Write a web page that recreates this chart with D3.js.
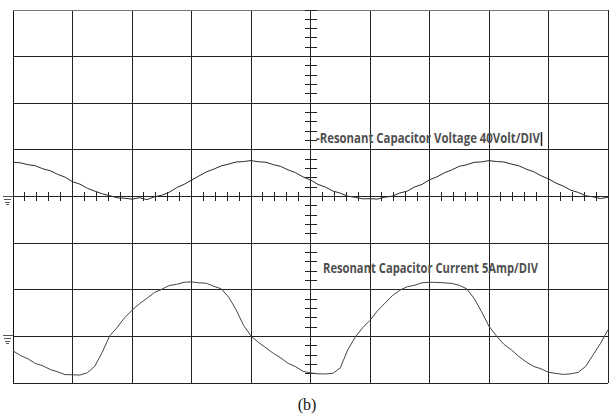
<!DOCTYPE html>
<html>
<head>
<meta charset="utf-8">
<script src="https://cdn.jsdelivr.net/npm/d3@7"></script>
<style>
  html, body { margin: 0; padding: 0; background: #fff; }
  svg { display: block; }
</style>
</head>
<body>
<svg id="chart" width="614" height="418"></svg>
<script>
// ---- data (time in divisions, 0.125 div steps) ----
const timeDivs = d3.range(81).map(k => k * 0.125);

// Resonant capacitor voltage (V), 40 V/DIV, ground at centre line
const voltage = [
  29.4, 28.9, 27.3, 26.4, 23.8, 22.1, 19.0, 16.6, 12.7, 10.6,
  7.0, 4.6, 2.3, 0.7, -1.1, -1.5, -2.3, -1.0, -2.7, -0.3,
  1.1, 3.6, 7.6, 10.4, 14.0, 17.6, 21.1, 23.5, 26.3, 27.8,
  29.6, 30.0, 30.8, 29.8, 29.4, 27.3, 25.8, 22.8, 20.4, 16.8,
  14.2, 10.4, 8.1, 4.7, 2.9, 0.3, -0.7, -2.0, -1.9, -2.2,
  -0.6, 0.3, 3.0, 4.6, 8.2, 10.4, 14.3, 16.9, 20.3, 22.8,
  25.9, 27.2, 29.3, 29.7, 30.8, 30.0, 29.6, 27.8, 26.4, 23.5,
  21.3, 17.8, 15.1, 11.5, 8.9, 5.4, 3.5, 0.6, -0.3, -1.8,
  -0.6
];

// Resonant capacitor current (A), 5 A/DIV, ground 3 div below centre
const current = [
  -1.55, -2.05, -2.40, -2.90, -3.15, -3.55, -3.80, -4.10, -4.12, -4.15,
  -3.90, -3.20, -1.70, 0.05, 0.95, 2.00, 2.80, 3.50, 4.08, 4.70,
  5.05, 5.45, 5.58, 5.80, 5.85, 5.74, 5.70, 5.37, 5.10, 4.20,
  2.85, 1.18, 0.05, -0.65, -1.22, -1.82, -2.30, -2.90, -3.25, -3.75,
  -3.92, -4.02, -4.03, -3.96, -3.38, -1.45, -0.10, 0.92, 1.72, 2.74,
  3.55, 4.36, 4.95, 5.32, 5.48, 5.75, 5.80, 5.79, 5.74, 5.68,
  5.48, 5.10, 4.08, 2.64, 1.08, 0.05, -0.85, -1.44, -2.15, -2.74,
  -3.22, -3.48, -3.86, -3.97, -4.08, -4.02, -3.85, -3.22, -1.98, -0.74,
  0.70
];

const voltsPerDiv = 40;
const ampsPerDiv = 5;
const voltageGroundDiv = 0;
const currentGroundDiv = -3;
const labels = {
  voltage: "-Resonant Capacitor Voltage 40Volt/DIV",
  current: "Resonant Capacitor Current 5Amp/DIV",
  caption: "(b)"
};

// ---- layout ----
const svg = d3.select("#chart");
const pLeft = 13, pRight = 608, pTop = 10, pBottom = 383;
const x = d3.scaleLinear().domain([0, 10]).range([pLeft, pRight]);
const y = d3.scaleLinear().domain([-4, 4]).range([pBottom, pTop]); // screen divisions
const yV = v => y(voltageGroundDiv + v / voltsPerDiv);
const yI = a => y(currentGroundDiv + a / ampsPerDiv);

const g = svg.append("g");

// grid
const gridColor = "#222";
d3.range(0, 11).forEach(i => {
  g.append("line").attr("x1", x(i)).attr("x2", x(i))
    .attr("y1", y(-4)).attr("y2", y(4))
    .attr("stroke", i === 0 ? "#111" : gridColor).attr("stroke-width", 1)
    .attr("shape-rendering", "crispEdges");
});
d3.range(-4, 5).forEach(j => {
  g.append("line").attr("x1", x(0)).attr("x2", x(10))
    .attr("y1", y(j)).attr("y2", y(j))
    .attr("stroke", j === 4 ? "#777" : gridColor).attr("stroke-width", 1)
    .attr("shape-rendering", "crispEdges");
});

// centre minor ticks
d3.range(0, 50.5).forEach(k => {
  const t = k / 5;
  g.append("line").attr("x1", x(t)).attr("x2", x(t))
    .attr("y1", y(0) - 4.5).attr("y2", y(0) + 4.5)
    .attr("stroke", "#222").attr("stroke-width", 1)
    .attr("shape-rendering", "crispEdges");
});
d3.range(-20, 20.5).forEach(k => {
  const t = k / 5;
  g.append("line").attr("x1", x(5) - 6).attr("x2", x(5) + 6)
    .attr("y1", y(t)).attr("y2", y(t))
    .attr("stroke", "#222").attr("stroke-width", 1)
    .attr("shape-rendering", "crispEdges");
});

// ground symbols
function groundSymbol(yy) {
  const s = g.append("g").attr("stroke", "#555").attr("stroke-width", 1)
    .attr("shape-rendering", "crispEdges");
  s.append("line").attr("x1", 3).attr("x2", pLeft).attr("y1", yy).attr("y2", yy);
  s.append("line").attr("x1", 4).attr("x2", 11).attr("y1", yy + 3).attr("y2", yy + 3);
  s.append("line").attr("x1", 5).attr("x2", 10).attr("y1", yy + 5.5).attr("y2", yy + 5.5);
  s.append("line").attr("x1", 6).attr("x2", 9).attr("y1", yy + 8).attr("y2", yy + 8);
}
groundSymbol(Math.round(y(voltageGroundDiv)) - 0.5);
groundSymbol(Math.round(y(currentGroundDiv)) - 0.5);

// traces
const lineV = d3.line().x((d, i) => x(timeDivs[i])).y(d => yV(d));
const lineI = d3.line().x((d, i) => x(timeDivs[i])).y(d => yI(d));
g.append("path").datum(voltage).attr("d", lineV)
  .attr("fill", "none").attr("stroke", "#2a2a2a").attr("stroke-width", 1);
g.append("path").datum(current).attr("d", lineI)
  .attr("fill", "none").attr("stroke", "#444").attr("stroke-width", 1);

// labels
g.append("text").attr("x", 316).attr("y", 143)
  .attr("font-family", "'Open Sans', sans-serif").attr("font-weight", 700)
  .attr("font-size", 13.5).attr("fill", "#505050")
  .attr("textLength", 224).attr("lengthAdjust", "spacingAndGlyphs")
  .text(labels.voltage);
g.append("line").attr("x1", 541.5).attr("x2", 541.5).attr("y1", 132).attr("y2", 146)
  .attr("stroke", "#222").attr("stroke-width", 1.5);
g.append("text").attr("x", 323).attr("y", 273)
  .attr("font-family", "'Open Sans', sans-serif").attr("font-weight", 700)
  .attr("font-size", 13.5).attr("fill", "#505050")
  .attr("textLength", 215).attr("lengthAdjust", "spacingAndGlyphs")
  .text(labels.current);

svg.append("text").attr("x", 307).attr("y", 410)
  .attr("text-anchor", "middle")
  .attr("font-family", "'Liberation Serif', 'Times New Roman', serif")
  .attr("font-size", 16).attr("fill", "#111")
  .text(labels.caption);
</script>
</body>
</html>
